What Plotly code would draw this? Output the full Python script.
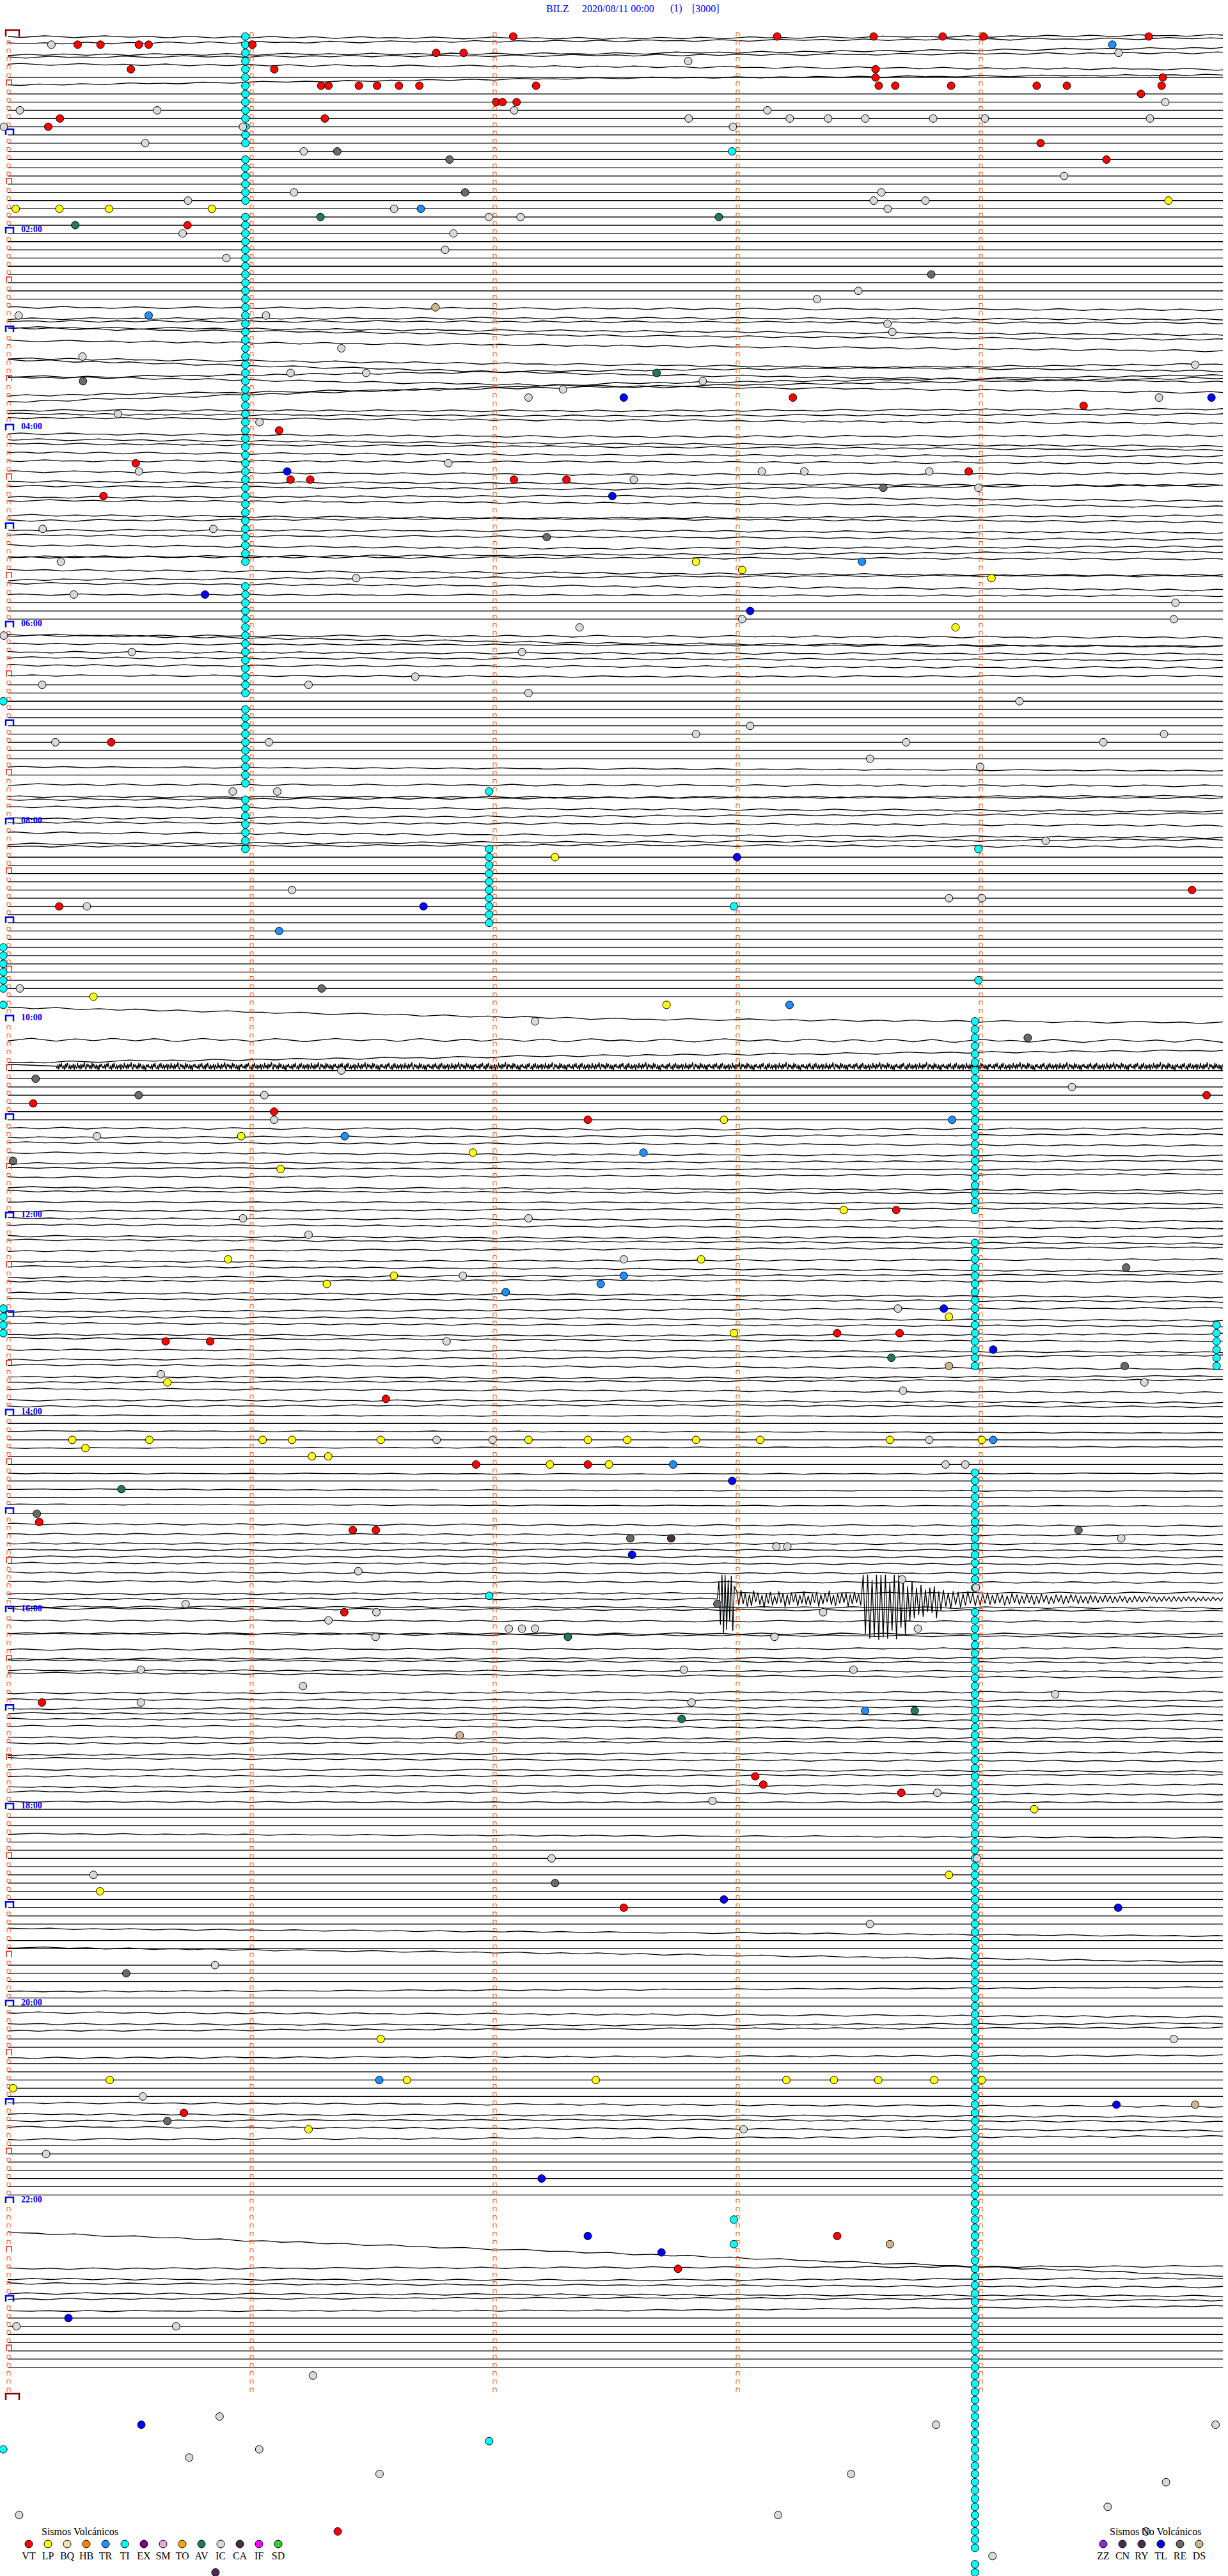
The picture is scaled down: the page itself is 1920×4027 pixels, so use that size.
import plotly.graph_objects as go

# ---------------- geometry of the helicorder page ----------------
W, H = 1920, 4027
X0, PX_PER_MIN = 12, 380.0          # 5-minute traces
Y0, PX_PER_ROW = 57, 12.83          # one trace per row (12 per hour)
N_ROWS = 288
ROWS_RECORDED = 285                 # last three traces not yet recorded
TICK_MIN = [0, 1, 2, 3, 4]
HOUR_LABELS = ["02:00", "04:00", "06:00", "08:00", "10:00", "12:00",
               "14:00", "16:00", "18:00", "20:00", "22:00"]

def xm(px):   # page pixel -> minute
    return (px - X0) / PX_PER_MIN

def yr(py):   # page pixel -> row
    return (py - Y0) / PX_PER_ROW

def dm(px):
    return px / PX_PER_MIN

def dr(px):
    return px / PX_PER_ROW

# ---------------- trace shapes (px offsets at 0, 2.5, 5 min, jitter) ----------------
TRACE_SHAPE = {
    0: (0, 3, -2, 1.5), 1: (-2, -6, -10, 1.5), 2: (3, 1, -8, 1.5), 3: (-6, -9, -13, 1.5),
    4: (-8, -4, 0, 1.5), 6: (-1, -12, -17, 1.2),
    33: (0, 2, 4, 1.5), 34: (5, 4, 6, 1.5), 35: (-4, -3, -1, 1.5), 36: (-6, 6, 12, 1.5),
    37: (-20, -14, -8, 1.5), 38: (-12, -4, 4, 1.5), 39: (5, 28, 40, 1.5), 40: (-10, 0, 10, 1.5),
    41: (8, -4, -14, 1.5), 42: (-8, 8, 18, 1.5), 43: (10, -4, -18, 1.5), 44: (7, -22, -35, 1.5),
    45: (7, 8, 5, 1.5), 46: (0, 3, 0, 1.5), 47: (-7, -3, 2, 1.5), 48: (5, 10, 8, 1.5),
    49: (1, 8, 12, 1.5), 50: (-5, 0, 5, 1.5), 51: (-4, 0, 2, 1.5), 52: (-4, -2, 0, 1.5),
    53: (0, 5, 3, 1.5), 54: (3, 6, 10, 1.5), 55: (-3, 2, -5, 1.5), 56: (2, 0, 8, 1.5),
    57: (-6, -2, 4, 1.5), 58: (4, 10, 15, 1.5), 59: (0, -4, -8, 1.5), 60: (2, 3, 6, 1.5),
    61: (-3, 0, 4, 1.5), 62: (0, 5, 2, 1.5), 63: (6, 2, -3, 1.5), 64: (-8, -6, -4, 1.5),
    65: (0, 5, 10, 1.5), 66: (3, -2, -5, 1.5), 67: (-5, 0, 6, 1.5), 68: (0, 1, 2, 1.2),
    72: (11, 25, 30, 1.5), 73: (0, 1, 3, 1.5), 74: (0, 2, 4, 1.2), 75: (0, 2, 3, 1.5),
    76: (-4, -2, 0, 1.5), 77: (-5, -3, -1, 1.5), 78: (-2, 0, -1, 1.2),
    89: (0, 3, 6, 1.0), 91: (2, 3, 4, 1.5), 92: (8, 9, 10, 1.5), 93: (0, -3, -6, 1.5),
    94: (-2, 2, 5, 1.5), 95: (4, 0, -4, 1.5), 96: (-3, -1, 2, 1.5), 97: (0, 4, 8, 1.5),
    98: (5, 2, -2, 1.5), 99: (-4, -6, -3, 1.5),
    118: (4, 22, 28, 1.5), 122: (3, 4, 5, 2.5), 124: (13, 2, -6, 1.5), 133: (0, 2, 1, 1.5),
    134: (2, 0, -3, 1.3), 135: (-3, -1, 2, 1.3), 136: (0, 3, 5, 1.3), 137: (4, 2, 0, 1.3),
    138: (-2, 0, 1, 1.0), 139: (0, -2, -5, 1.3), 140: (3, 5, 8, 1.3), 141: (-4, -2, 0, 1.3),
    142: (0, 1, 3, 1.0), 143: (2, -1, -3, 1.3), 144: (0, 2, 5, 1.3), 145: (-3, 0, 3, 1.3),
    146: (2, 5, 3, 1.3), 147: (-5, -2, 1, 1.3), 148: (0, -3, -6, 1.3), 149: (4, 2, 0, 1.3),
    150: (-2, 2, 6, 1.3), 151: (3, 0, -2, 1.3), 152: (-4, -6, -3, 1.3), 153: (1, 4, 8, 1.3),
    154: (-2, -1, 2, 1.3), 155: (5, 2, -1, 1.3), 156: (0, 3, 6, 1.3), 157: (-3, 0, 2, 1.3),
    158: (2, 4, 1, 1.3), 159: (-5, -2, 0, 1.3), 160: (0, 2, 4, 1.3), 161: (3, 0, -4, 1.3),
    162: (-2, 1, 5, 1.3), 163: (4, 6, 3, 1.3), 164: (0, -2, -4, 1.3), 165: (-3, 0, 3, 1.3),
    166: (2, 3, 6, 1.3), 167: (-1, -3, 0, 1.3), 168: (0, 1, 2, 0.8), 170: (-1, 0, 2, 0.8),
    172: (0, -1, -2, 0.8), 175: (1, 2, 1, 0.8), 177: (0, 2, 3, 0.8), 179: (-2, 0, 1, 0.8),
    181: (3, 5, 6, 1.3), 182: (6, 7, 8, 1.3), 183: (8, 8, 9, 1.3), 184: (5, 5, 6, 1.3),
    185: (3, 3, 4, 1.3), 186: (0, 1, 2, 1.3), 187: (2, 3, 3, 1.3), 188: (3, 4, 5, 1.3),
    189: (10, 9, 8, 1.3), 191: (4, 5, 6, 1.3), 192: (-6, -4, -2, 1.3), 193: (0, 1, 2, 1.3),
    194: (7, 8, 8, 1.3), 195: (-5, -3, 0, 1.3), 196: (7, 6, 5, 1.3), 197: (9, 8, 7, 1.3),
    198: (-2, 0, 2, 1.3), 199: (1, 2, 3, 1.3), 200: (-8, -4, 0, 1.3), 201: (11, 10, 9, 1.3),
    202: (8, 9, 10, 1.3), 203: (10, 8, 6, 1.3), 204: (4, 5, 6, 1.3), 205: (0, 2, 3, 1.3),
    206: (-2, 0, 3, 1.3), 207: (3, 5, 4, 1.3), 208: (0, -2, -3, 1.3), 209: (5, 3, 1, 1.3),
    210: (-3, 0, 2, 1.3), 211: (2, 3, 5, 1.3), 212: (0, -1, -3, 1.3), 213: (4, 2, 0, 1.3),
    214: (-2, 0, 3, 1.3), 215: (1, 2, 2, 1.0),
    219: (0, 3, 6, 1.0), 231: (-6, 0, 6, 1.0), 234: (-15, -5, 8, 1.2), 238: (3, 0, -4, 1.0),
    241: (-3, 0, 4, 1.3), 242: (2, 4, 1, 1.3), 243: (0, -3, -5, 1.3), 246: (4, 2, 0, 1.2),
    252: (-3, 0, 3, 1.3), 253: (2, 4, 6, 1.3), 254: (0, -2, 1, 1.3), 255: (-4, -1, 2, 1.3),
    256: (3, 1, -2, 1.3), 267: (7, 40, 75, 1.3), 272: (0, -2, -4, 1.3), 273: (3, 5, 2, 1.3),
    274: (-3, 0, 3, 1.3), 275: (0, 2, 4, 1.3), 276: (-4, -6, -2, 1.3), 277: (2, 1, -6, 1.0),
}
GAP_ROWS = [119, 120, 121, 123, 264, 265, 266, 268, 269, 270, 271]

# small hand-read wiggle texture (px)
TEXTURE = [0.0, 0.5, 0.9, 0.6, 0.1, -0.4, -0.8, -0.5, 0.0, 0.3, 0.7, 1.0, 0.6, 0.2, -0.3,
           -0.7, -1.0, -0.6, -0.2, 0.2, 0.4, 0.1, -0.3, -0.5, -0.2, 0.3, 0.8, 0.5, -0.1,
           -0.6, -0.9, -0.4, 0.1, 0.6, 0.9, 0.4, -0.2, -0.5, -0.3, 0.2, 0.6, 0.3, -0.3,
           -0.8, -0.6, -0.1, 0.4, 0.7, 0.3, -0.2, -0.7, -0.4, 0.2, 0.8, 1.0, 0.5, -0.1,
           -0.5, -0.9, -0.6, -0.1, 0.3, 0.1, -0.2]
NOISE = [0, 3, -2, 4, -3, 1, -4, 2, 3, -1, 5, -3, 2, -4, 1, 3, -2, 4, -1, 2, -3, 5, -2, 1,
         3, -4, 2, -1, 4, -3, 3, -2, 1, -5, 2, 4, -3, 1, -2, 3, -1, 4, -4, 2, -3, 1, 3, -2,
         4, -1, 6, -2, 1, -3, 2]

NOISY_ROW, NOISY_START, NOISY_OFFSET, NOISY_STEP = 125, 0.2, 6, 0.0035
BURST_ROW, BURST_PRE_OFFSET = 190, 5
BURST_SEGMENTS = [
    (2.92, 2.99, [0, -28, 40, -38, 55, -38, 48, -30, 35, -36, 50, -20]),
    (3.00, 3.51, [-12, 10, -14, 8, -9, 12, -7, 11, -13, 5, -10, 9, -6, 14, -8, 7, -11, 10,
                  -5, 8, -12, 6, -9, 13, -7, 9, -10, 5, -8, 11, -6, 7, -12, 9, -5, 10, -8,
                  6, -11, 12, -7, 8, -9, 5, -13, 9, -6, 11, -8, 7, -10, 6, -9, 12, -7,
                  8, -11, 6, -8, 10]),
    (3.52, 3.84, [-38, 55, -38, 62, -30, 58, -38, 64, -38, 60, -38, 62, -25, 50, -38, 63,
                  -38, 45, -30, 55, -20, 35, -28, 30, -18, 25, -22, 28, -15, 20, -18, 22,
                  -20, 30, -12, 18]),
    (3.85, 5.00, [-14, 12, -10, 15, -12, 9, -11, 13, -8, 10, -12, 7, -9, 11, -6, 10, -8, 7,
                  -10, 9, -6, 8, -9, 6, -7, 10, -5, 8, -9, 6, -7, 9, -5, 7, -8, 6, -6, 9,
                  -5, 7, -8, 5, -6, 8, -4, 7, -7, 5, -6, 8, -5, 6, -7, 4, -6, 7, -5, 6, -4,
                  7, -6, 5, -5, 6, -4, 5, -6, 4, -5, 6, -4, 5, -5, 4, -4, 6, -3, 5, -5, 4,
                  -4, 5, -3, 4, -5, 3, -4, 5, -3, 4, -4, 3, -3, 4, -4, 3, -3, 4, -3, 3, -4,
                  3, -3, 4, -2, 3, -3, 3, -2, 3, -3, 2, -2, 3, -2]),
]

# ---------------- events (trace row, minute within trace) ----------------
VT = [(0, 2.08), (0, 3.166), (0, 3.563), (0, 3.847), (0, 4.015), (0, 4.695), (1, 0.288),
      (1, 0.382), (1, 0.54), (1, 0.58), (1, 1.007), (2, 1.763), (2, 1.876), (4, 0.507),
      (4, 1.097), (4, 3.571), (5, 3.571), (5, 4.753), (6, 1.29), (6, 1.32), (6, 1.445),
      (6, 1.52), (6, 1.61), (6, 1.694), (6, 2.174), (6, 3.584), (6, 3.652), (6, 3.882),
      (6, 4.234), (6, 4.358), (6, 4.748), (7, 4.663), (8, 2.01), (8, 2.036), (8, 2.094),
      (10, 0.215), (10, 1.305), (11, 0.167), (13, 4.25), (15, 4.521), (23, 0.74),
      (44, 3.231), (45, 4.427), (48, 1.117), (52, 0.527), (53, 3.954), (54, 1.164),
      (54, 1.245), (54, 2.083), (54, 2.299), (56, 0.394), (86, 0.426), (104, 4.873),
      (106, 0.212), (129, 4.933), (130, 0.105), (131, 1.096), (132, 2.387), (143, 3.656),
      (158, 3.413), (158, 3.67), (159, 0.65), (159, 0.833), (166, 1.556), (174, 1.927),
      (174, 2.387), (181, 0.13), (182, 1.42), (182, 1.515), (192, 1.385), (203, 0.141),
      (212, 3.076), (213, 3.109), (214, 3.677), (228, 2.535), (253, 0.725), (268, 3.413),
      (272, 2.758), (304, 1.358)]
LP = [(20, 4.776), (21, 0.033), (21, 0.213), (21, 0.417), (21, 0.84), (64, 2.832),
      (65, 3.022), (66, 4.048), (72, 3.9), (100, 2.252), (117, 0.353), (118, 2.711),
      (132, 2.947), (134, 0.961), (136, 1.914), (138, 1.123), (143, 3.44), (149, 0.907),
      (149, 2.853), (151, 1.589), (152, 1.313), (156, 3.873), (158, 2.988), (164, 0.657),
      (171, 0.266), (171, 0.583), (171, 1.049), (171, 1.17), (171, 1.535), (171, 2.143),
      (171, 2.387), (171, 2.549), (171, 2.832), (171, 3.096), (171, 3.63), (171, 4.008),
      (172, 0.32), (173, 1.252), (173, 1.319), (174, 2.231), (174, 2.474), (216, 4.224),
      (224, 3.873), (226, 0.38), (244, 1.535), (249, 0.42), (249, 1.643), (249, 2.42),
      (249, 3.204), (249, 3.40), (249, 3.582), (249, 3.812), (249, 4.008), (250, 0.022),
      (255, 1.238)]
TR = [(1, 4.545), (21, 1.70), (34, 0.58), (64, 3.515), (109, 1.117), (118, 3.217),
      (132, 3.886), (134, 1.387), (136, 2.616), (151, 2.535), (152, 2.44), (153, 2.049),
      (171, 4.055), (174, 2.738), (204, 3.528), (249, 1.529)]
TL = [(44, 2.535), (44, 4.953), (53, 1.15), (56, 2.488), (68, 0.812), (70, 3.055),
      (100, 3.001), (106, 1.711), (155, 3.852), (160, 4.055), (176, 2.981), (185, 2.569),
      (227, 2.947), (228, 4.569), (252, 4.562), (261, 2.197), (268, 2.387), (270, 2.69),
      (278, 0.25), (291, 0.55)]
AV = [(22, 1.287), (22, 2.926), (23, 0.278), (41, 2.67), (161, 3.636), (177, 0.468),
      (195, 2.305), (204, 3.732), (205, 2.773)]
RE = [(14, 1.356), (15, 1.818), (19, 1.882), (29, 3.80), (42, 0.31), (55, 3.603),
      (61, 2.218), (116, 1.292), (122, 4.197), (127, 0.115), (129, 0.539), (137, 0.022),
      (150, 4.602), (162, 4.596), (180, 0.12), (182, 4.406), (183, 2.562), (191, 2.92),
      (225, 2.252), (236, 0.488), (254, 0.657)]
CA = [(183, 2.73), (309, 0.855)]
DS = [(33, 1.76), (162, 3.873), (207, 1.86), (252, 4.886), (269, 3.63)]
IC = [(1, 0.18), (2, 4.571), (3, 2.80), (8, 4.763), (9, 0.05), (9, 0.615), (9, 2.084),
      (9, 3.126), (10, 2.802), (10, 3.218), (10, 3.376), (10, 3.529), (10, 3.808),
      (10, 4.021), (10, 4.70), (11, -0.016), (11, 0.968), (11, 2.984), (13, 0.566),
      (14, 1.218), (17, 4.347), (19, 1.178), (19, 3.595), (20, 0.742), (20, 3.563),
      (20, 3.776), (21, 1.59), (21, 3.621), (22, 1.98), (22, 2.11), (24, 0.72), (24, 1.834),
      (26, 1.80), (27, 0.90), (31, 3.50), (32, 3.33), (34, 0.045), (34, 1.063), (35, 3.62),
      (36, 3.64), (38, 1.373), (39, 0.308), (40, 4.886), (41, 1.164), (41, 1.475),
      (42, 2.86), (43, 2.285), (44, 2.143), (44, 4.737), (46, 0.454), (47, 1.036),
      (52, 1.813), (53, 0.54), (53, 3.103), (53, 3.278), (53, 3.792), (54, 2.576),
      (55, 3.994), (60, 0.144), (60, 0.846), (64, 0.219), (66, 1.434), (68, 0.272),
      (69, 4.805), (71, 3.022), (71, 4.798), (72, 2.353), (73, -0.016), (75, 0.511),
      (75, 2.116), (78, 1.677), (79, 0.142), (79, 1.238), (80, 2.143), (81, 4.163),
      (84, 3.055), (85, 2.832), (85, 4.758), (86, 0.196), (86, 1.075), (86, 3.697),
      (86, 4.508), (88, 3.548), (89, 4.001), (92, 0.926), (92, 1.109), (98, 4.271),
      (104, 1.17), (105, 3.873), (105, 4.008), (106, 0.326), (116, 0.05), (120, 2.17),
      (126, 1.373), (128, 4.379), (129, 1.056), (132, 1.096), (134, 0.367), (144, 0.968),
      (144, 2.143), (146, 1.238), (149, 2.535), (151, 1.873), (155, 3.663), (159, 1.806),
      (163, 0.63), (164, 4.677), (165, 3.684), (171, 1.765), (171, 1.995), (171, 3.792),
      (174, 3.859), (174, 3.94), (183, 4.582), (184, 3.163), (184, 3.208), (187, 1.443),
      (188, 3.68), (189, 3.984), (191, 0.732), (192, 1.517), (192, 3.355), (193, 1.32),
      (194, 2.062), (194, 2.116), (194, 2.17), (194, 3.745), (195, 1.514), (195, 3.155),
      (199, 0.548), (199, 2.782), (199, 3.48), (201, 1.215), (202, 4.31), (203, 0.548),
      (203, 2.814), (214, 3.825), (215, 2.9), (222, 2.238), (222, 3.988), (224, 0.353),
      (230, 3.548), (235, 0.853), (244, 4.798), (251, 0.556), (255, 3.028), (258, 0.158),
      (279, 0.036), (279, 0.693), (285, 1.256), (290, 0.872), (291, 3.82), (291, 4.97),
      (294, 1.035), (295, 0.747), (297, 1.53), (297, 3.47), (298, 4.766), (301, 4.526),
      (302, 0.047), (302, 3.17), (304, 4.684), (307, 4.052)]

# tremor (TI) columns: rows and the minute at which each column sits
TI_COL_A_MIN = 0.978
TI_COL_A_ROWS = (list(range(0, 14)) + list(range(15, 21)) + list(range(22, 65)) +
                 list(range(67, 81)) + list(range(82, 92)) + list(range(93, 100)))
TI_COL_B_MIN = 1.981
TI_COL_B_ROWS = [92] + list(range(99, 109)) + [190, 293]
TI_COL_C_MIN = 3.98
TI_COL_C_ROWS = (list(range(120, 144)) + list(range(147, 163)) + list(range(175, 190)) +
                 list(range(192, 307)) + [308, 309])
TI_LEFT_MIN = -0.018
TI_LEFT_ROWS = [81, 111, 112, 113, 114, 115, 116, 118, 155, 156, 157, 158, 294]
TI_RIGHT_MIN = 4.974
TI_RIGHT_ROWS = [157, 158, 159, 160, 161, 162]
TI_OTHER = [(14, 2.981), (99, 3.994), (115, 3.994), (106, 2.988), (266, 2.988), (269, 2.988)]

COLORS = {"VT": "#FF0000", "LP": "#FFFF00", "BQ": "#F2E3AE", "HB": "#FF8000",
          "TR": "#1E90FF", "TI": "#00FFFF", "EX": "#800080", "SM": "#E8A8E0",
          "TO": "#FFA500", "AV": "#1F7A5C", "IC": "#D9D9D9", "CA": "#4B2D4B",
          "IF": "#FF00FF", "SD": "#33CC33", "ZZ": "#8A2BE2", "CN": "#4B2D4B",
          "RY": "#4B2D4B", "TL": "#0000FF", "RE": "#6A6A6A", "DS": "#D2B48C"}
LEGEND_VOLC = ["VT", "LP", "BQ", "HB", "TR", "TI", "EX", "SM", "TO", "AV", "IC", "CA", "IF", "SD"]
LEGEND_NOVOLC = ["ZZ", "CN", "RY", "TL", "RE", "DS"]

fig = go.Figure()

# ---------------- seismogram traces ----------------
N_SAMP = 200
lx, ly = [], []
for r in range(ROWS_RECORDED):
    if r in GAP_ROWS:
        continue
    if r == NOISY_ROW:
        lx += [0, NOISY_START]
        ly += [r + dr(3), r + dr(NOISY_OFFSET)]
        n = int(round((5 - NOISY_START) / NOISY_STEP))
        for i in range(n + 1):
            lx.append(NOISY_START + i * NOISY_STEP)
            ly.append(r + dr(NOISY_OFFSET + 1.3 * NOISE[i % len(NOISE)]))
        lx.append(None); ly.append(None)
        continue
    if r == BURST_ROW:
        start = BURST_SEGMENTS[0][0]
        i = 0
        m = 0.0
        while m < start:
            lx.append(m)
            ly.append(r + dr(BURST_PRE_OFFSET + 1.5 * TEXTURE[(i + 17 * r) % len(TEXTURE)]))
            i += 1
            m = i * 0.025
        for s0, s1, vals in BURST_SEGMENTS:
            k = len(vals)
            for j, v in enumerate(vals):
                lx.append(s0 + (s1 - s0) * j / (k - 1))
                ly.append(r + dr(BURST_PRE_OFFSET + v))
        lx.append(None); ly.append(None)
        continue
    if r in TRACE_SHAPE:
        a, b, c, amp = TRACE_SHAPE[r]
        for i in range(N_SAMP + 1):
            m = 5.0 * i / N_SAMP
            if m <= 2.5:
                base = a + (b - a) * m / 2.5
            else:
                base = b + (c - b) * (m - 2.5) / 2.5
            off = base + amp * TEXTURE[(i + 17 * r) % len(TEXTURE)]
            lx.append(m); ly.append(r + dr(off))
        lx.append(None); ly.append(None)
    else:
        lx += [0, 5, None]; ly += [r, r, None]

fig.add_trace(go.Scatter(x=lx, y=ly, mode="lines", line=dict(color="black", width=1.3),
                         hoverinfo="skip"))

# ---------------- minute tick marks (small open boxes) ----------------
mx, my = [], []
for r in range(N_ROWS):
    for t in TICK_MIN:
        if t == 0 and r % 6 == 0:
            continue
        x0, x1 = t - dm(1), t + dm(4)
        mx += [x0, x0, x1, x1, None]
        my += [r, r - dr(6), r - dr(6), r, None]
fig.add_trace(go.Scatter(x=mx, y=my, mode="lines", line=dict(color="#FF4A00", width=1),
                         hoverinfo="skip"))

def box_trace(rows, left_px, right_px, height_px, color, width):
    bx, by = [], []
    for r in rows:
        x0, x1 = dm(left_px), dm(right_px)
        bx += [x0, x0, x1, x1, None]
        by += [r, r - dr(height_px), r - dr(height_px), r, None]
    fig.add_trace(go.Scatter(x=bx, y=by, mode="lines", line=dict(color=color, width=width),
                             hoverinfo="skip"))

box_trace([r for r in range(6, N_ROWS, 12)], -2, 6, 9, "#FF1A00", 1.5)
box_trace([r for r in range(12, N_ROWS, 12)], -3, 9, 9, "#0000FF", 2.5)
box_trace([0, N_ROWS], -3, 18, 10, "#8B0000", 2.5)

# ---------------- events ----------------
ex, ey, ec = [], [], []
def add_events(pairs, code):
    for r, m in pairs:
        ex.append(m); ey.append(r); ec.append(COLORS[code])

add_events([(r, TI_COL_A_MIN) for r in TI_COL_A_ROWS], "TI")
add_events([(r, TI_COL_B_MIN) for r in TI_COL_B_ROWS], "TI")
add_events([(r, TI_COL_C_MIN) for r in TI_COL_C_ROWS], "TI")
add_events([(r, TI_LEFT_MIN) for r in TI_LEFT_ROWS], "TI")
add_events([(r, TI_RIGHT_MIN) for r in TI_RIGHT_ROWS], "TI")
add_events(TI_OTHER, "TI")
for pairs, code in [(IC, "IC"), (RE, "RE"), (CA, "CA"), (DS, "DS"), (AV, "AV"),
                    (TR, "TR"), (TL, "TL"), (LP, "LP"), (VT, "VT")]:
    add_events(pairs, code)

fig.add_trace(go.Scatter(x=ex, y=ey, mode="markers", hoverinfo="skip",
                         marker=dict(size=12, color=ec, line=dict(color="black", width=1))))

# ---------------- legend blocks ----------------
LEG_Y_TITLE, LEG_Y_DOT, LEG_Y_LABEL = 3957, 3977, 3997
VOLC_X0, NOVOLC_X0, LEG_STEP = 45, 1725, 30
lgx = [xm(VOLC_X0 + LEG_STEP * i) for i in range(len(LEGEND_VOLC))] + \
      [xm(NOVOLC_X0 + LEG_STEP * i) for i in range(len(LEGEND_NOVOLC))]
lgc = [COLORS[c] for c in LEGEND_VOLC + LEGEND_NOVOLC]
fig.add_trace(go.Scatter(x=lgx, y=[yr(LEG_Y_DOT)] * len(lgx), mode="markers", hoverinfo="skip",
                         marker=dict(size=12, color=lgc, line=dict(color="black", width=1))))
fig.add_trace(go.Scatter(x=lgx, y=[yr(LEG_Y_LABEL)] * len(lgx), mode="text",
                         text=LEGEND_VOLC + LEGEND_NOVOLC, textposition="middle center",
                         hoverinfo="skip",
                         textfont=dict(family="Liberation Serif", size=16, color="black")))

ann = []
SERIF = "Liberation Serif"
ann.append(dict(x=xm(63), y=yr(LEG_Y_TITLE), text="Sismos Volcánicos", showarrow=False,
                xanchor="left", yanchor="middle",
                font=dict(family=SERIF, size=16, color="black")))
ann.append(dict(x=xm(1733), y=yr(LEG_Y_TITLE), text="Sismos No Volcánicos", showarrow=False,
                xanchor="left", yanchor="middle",
                font=dict(family=SERIF, size=16, color="black")))

# hour labels
for k, lab in enumerate(HOUR_LABELS):
    row = 24 * (k + 1)
    ann.append(dict(x=xm(31), y=row - dr(6), text="<b>" + lab + "</b>", showarrow=False,
                    xanchor="left", yanchor="middle",
                    font=dict(family=SERIF, size=14, color="#0000FF")))

# title pieces
TITLE_PARTS = [("BILZ", 852), ("2020/08/11 00:00", 908), ("(1)", 1046), ("[3000]", 1080)]
for txt, px in TITLE_PARTS:
    ann.append(dict(x=xm(px), y=yr(13), text=txt, showarrow=False, xanchor="left",
                    yanchor="middle", font=dict(family=SERIF, size=16, color="#0000FF")))

fig.update_layout(
    width=W, height=H, margin=dict(l=0, r=0, t=0, b=0),
    paper_bgcolor="white", plot_bgcolor="white", showlegend=False,
    xaxis=dict(range=[xm(0), xm(W)], visible=False, fixedrange=True),
    yaxis=dict(range=[yr(H), yr(0)], visible=False, fixedrange=True),
    annotations=ann,
)

fig.write_html("out.html", config={"displayModeBar": False},
               post_script="document.body.style.margin='0';")
